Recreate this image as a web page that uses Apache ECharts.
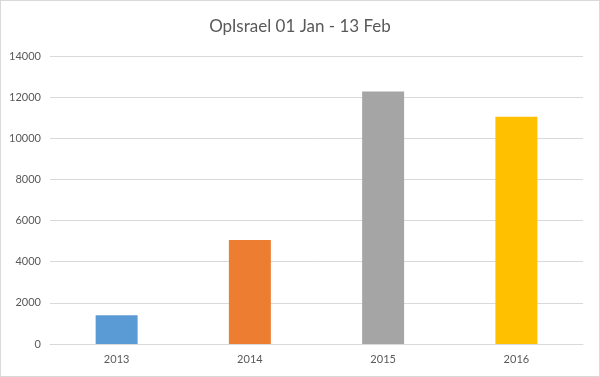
<!DOCTYPE html>
<html>
<head>
<meta charset="utf-8">
<script src="https://cdn.jsdelivr.net/npm/echarts@6/dist/echarts.min.js"></script>
<style>
  html, body { margin: 0; padding: 0; background: #fff; }
  #main { width: 600px; height: 377px; box-sizing: border-box; border: 1px solid #d9d9d9; }
</style>
</head>
<body>
<div id="main"></div>
<script>
var years = ['2013', '2014', '2015', '2016'];
var counts = [1400, 5050, 12280, 11050];
var barColors = ['#5b9bd5', '#ed7d31', '#a5a5a5', '#ffc000'];

var myChart = echarts.init(document.getElementById('main'));

var option = {
    animation: false,
    title: {
        text: 'OpIsrael 01 Jan - 13 Feb',
        left: 'center',
        top: 12,
        textStyle: { fontFamily: 'Lato', fontSize: 17, fontWeight: 'normal', color: '#595959' }
    },
    grid: { left: 49, right: 16, top: 55, bottom: 32 },
    xAxis: {
        type: 'category',
        data: years,
        axisLine: { lineStyle: { color: '#d9d9d9' } },
        axisTick: { show: false },
        axisLabel: { fontFamily: 'Lato', fontSize: 11, color: '#595959', margin: 10 }
    },
    yAxis: {
        type: 'value',
        min: 0,
        max: 14000,
        interval: 2000,
        axisLine: { show: false },
        axisTick: { show: false },
        splitLine: { lineStyle: { color: '#d9d9d9' } },
        axisLabel: {
            fontFamily: 'Lato', fontSize: 11, color: '#595959', margin: 9,
            formatter: function (v) { return String(v); }
        }
    },
    series: [{
        type: 'bar',
        barWidth: '31.5%',
        data: counts.map(function (v, i) {
            return { value: v, itemStyle: { color: barColors[i] } };
        })
    }]
};

myChart.setOption(option);
</script>
</body>
</html>
